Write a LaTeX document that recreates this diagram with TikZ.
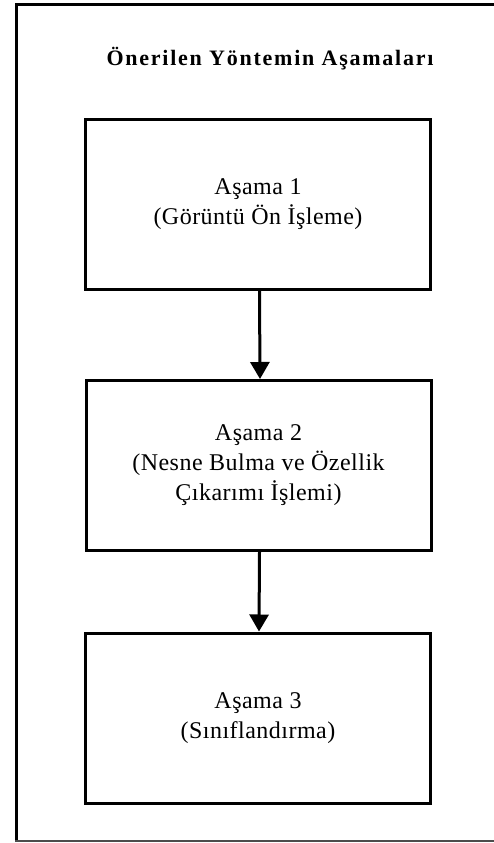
\documentclass[tikz,border=0pt]{standalone}
\usepackage{fontspec}
\setmainfont{Liberation Serif}[LetterSpace=2]
\usetikzlibrary{arrows.meta}
\begin{document}
\begin{tikzpicture}[x=1pt,y=-1pt,
  stagebox/.style={draw=black, line width=3pt, minimum width=345pt, minimum height=170pt,
    align=center, inner sep=0pt, font=\fontsize{24}{30}\selectfont},
  flow/.style={line width=3pt, -{Triangle[width=19pt,length=17pt]}}]
\useasboundingbox (0,0) rectangle (494,843);
\fill[white] (0,0) rectangle (494,843);
% outer frame
\draw[line width=3pt] (494,4.7) -- (16.5,4.7) -- (16.5,842);
\draw[gray!60!black, line width=1.5pt] (15,841) -- (494,841);
\node[font=\bfseries\fontsize{22}{26}\selectfont\addfontfeatures{LetterSpace=8}] (title) at (270,59) {Önerilen Yöntemin Aşamaları};
\node[stagebox] (b1) at (258,204.5) {Aşama 1\\(Görüntü Ön İşleme)};
\node[stagebox] (b2) at (258.5,465.5) {Aşama 2\\(Nesne Bulma ve Özellik\\Çıkarımı İşlemi)};
\node[stagebox] (b3) at (258,718) {Aşama 3\\(Sınıflandırma)};
\draw[flow] ([xshift=1.5pt]b1.south) -- ([xshift=1.5pt]b2.north);
\draw[flow] ([xshift=1pt]b2.south) -- ([xshift=1pt]b3.north);
\end{tikzpicture}
\end{document}
